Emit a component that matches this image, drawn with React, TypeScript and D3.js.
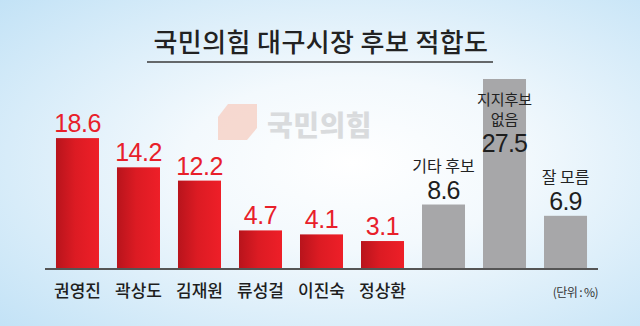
import React from "react";
import * as d3 from "d3";

const candidates = ["권영진", "곽상도", "김재원", "류성걸", "이진숙", "정상환"];
const candidateValues = [18.6, 14.2, 12.2, 4.7, 4.1, 3.1];
const otherKeys = ["기타 후보", "지지후보 없음", "잘 모름"];
const otherLabelLines = [["기타 후보"], ["지지후보", "없음"], ["잘 모름"]];
const otherValues = [8.6, 27.5, 6.9];
const title = "국민의힘 대구시장 후보 적합도";
const unitNote = "(단위 : %)";
const watermark = "국민의힘";

const W = 640;
const H = 326;
const baseY = 269;

export default function App() {
  const allKeys = [...candidates, ...otherKeys];
  const x = d3
    .scaleBand<string>()
    .domain(allKeys)
    .range([45, 598])
    .paddingInner(0.295)
    .paddingOuter(0.18);
  const y = d3.scaleLinear().domain([-1.11, 27.5]).range([baseY, 79]);
  const bw = x.bandwidth();
  const fmt = d3.format(".1f");
  const num = "'Liberation Sans', Arial, sans-serif";
  const kr = "'Noto Sans CJK KR', 'Noto Sans', sans-serif";

  return (
    <svg
      width={W}
      height={H}
      style={{ position: "absolute", left: 0, top: 0, display: "block" }}
    >
      <defs>
        <radialGradient id="bg" cx="0.55" cy="0.5" r="0.75">
          <stop offset="0" stopColor="#ffffff" />
          <stop offset="0.35" stopColor="#f3f9fd" />
          <stop offset="1" stopColor="#c2e2f6" />
        </radialGradient>
        <linearGradient id="red" x1="0" x2="1" y1="0" y2="0">
          <stop offset="0" stopColor="#b8141c" />
          <stop offset="0.45" stopColor="#dc1b23" />
          <stop offset="1" stopColor="#ee1f28" />
        </linearGradient>
      </defs>
      <rect x={0} y={0} width={W} height={H} fill="url(#bg)" />

      {/* watermark */}
      <polygon
        points="228,104 257,104 257,128 247,140 218,140 218,117"
        fill="#f6d2c8"
        opacity={0.85}
      />
      <text
        x={267}
        y={124}
        fontFamily={kr}
        fontWeight={900}
        fontSize={28}
        letterSpacing={0.5}
        fill="#d6d8da"
        dominantBaseline="central"
        opacity={0.9}
      >
        {watermark}
      </text>

      {/* title */}
      <text
        x={321}
        y={40}
        textAnchor="middle"
        dominantBaseline="central"
        fontFamily={kr}
        fontWeight={500}
        fontSize={26}
        letterSpacing={0.4}
        fill="#222"
      >
        {title}
      </text>
      <line x1={147} x2={493} y1={62} y2={62} stroke="#3a3a3a" strokeWidth={1.5} />

      {/* red bars */}
      {candidates.map((c, i) => (
        <g key={c}>
          <rect
            x={x(c)}
            y={y(candidateValues[i])}
            width={bw}
            height={baseY - y(candidateValues[i])}
            fill="url(#red)"
          />
          <text
            x={(x(c) as number) + bw / 2}
            y={y(candidateValues[i]) - 6}
            textAnchor="middle"
            fontFamily={num}
            fontSize={25}
            letterSpacing={-0.5}
            fill="#e8202a"
          >
            {fmt(candidateValues[i])}
          </text>
          <text
            x={(x(c) as number) + bw / 2}
            y={289}
            textAnchor="middle"
            dominantBaseline="central"
            fontFamily={kr}
            fontWeight={500}
            fontSize={17}
            fill="#1e1e1e"
          >
            {c}
          </text>
        </g>
      ))}

      {/* gray bars */}
      {otherKeys.map((k, i) => {
        const v = otherValues[i];
        const cx = (x(k) as number) + bw / 2;
        const top = y(v);
        const inside = i === 1;
        const valueBase = inside ? 152 : top - 6;
        const lines = otherLabelLines[i];
        const lineH = inside ? 20 : 18;
        return (
          <g key={k}>
            <rect x={x(k)} y={top} width={bw} height={baseY - top} fill="#a7a7a9" />
            {lines.map((ln, j) => (
              <text
                key={ln}
                x={cx}
                y={valueBase - 27 - (lines.length - 1 - j) * lineH}
                textAnchor="middle"
                fontFamily={kr}
                fontSize={inside ? 15 : 16}
                fill="#222"
              >
                {ln}
              </text>
            ))}
            <text
              x={cx}
              y={valueBase}
              textAnchor="middle"
              fontFamily={num}
              fontSize={25}
              letterSpacing={-0.8}
              fill="#1e1e1e"
            >
              {fmt(v)}
            </text>
          </g>
        );
      })}

      {/* axis */}
      <line x1={45} x2={598} y1={baseY} y2={baseY} stroke="#555" strokeWidth={2} />

      <text
        x={598}
        y={291}
        textAnchor="end"
        dominantBaseline="central"
        fontFamily={kr}
        fontSize={12}
        letterSpacing={-0.6}
        fill="#333"
      >
        {unitNote}
      </text>
    </svg>
  );
}
